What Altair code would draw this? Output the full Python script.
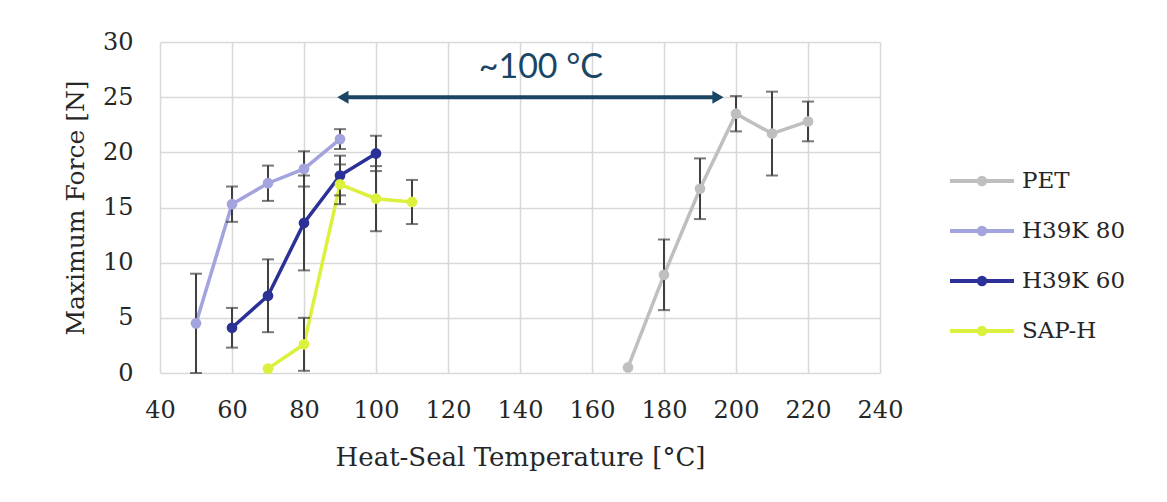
import altair as alt
import pandas as pd

# ---- data ----
series_names = ["PET", "H39K 80", "H39K 60", "SAP-H"]
series_colors = ["#bfbfbf", "#a3a3de", "#2b3196", "#dcf03e"]

pet_x = [170, 180, 190, 200, 210, 220]
pet_y = [0.5, 8.9, 16.7, 23.5, 21.7, 22.8]
pet_err = [0.0, 3.2, 2.75, 1.6, 3.8, 1.8]

h80_x = [50, 60, 70, 80, 90]
h80_y = [4.5, 15.3, 17.2, 18.5, 21.2]
h80_err = [4.5, 1.6, 1.6, 1.6, 0.9]

h60_x = [60, 70, 80, 90, 100]
h60_y = [4.1, 7.0, 13.6, 17.9, 19.9]
h60_err = [1.8, 3.3, 4.3, 1.8, 1.6]

sap_x = [70, 80, 90, 100, 110]
sap_y = [0.4, 2.6, 17.1, 15.8, 15.5]
sap_err = [0.0, 2.4, 1.8, 2.95, 2.0]

x_ticks = [40, 60, 80, 100, 120, 140, 160, 180, 200, 220, 240]
y_ticks = [0, 5, 10, 15, 20, 25, 30]

arrow_x = [90.8, 195.0]
arrow_y = 25
arrow_text = "~100 °C"
arrow_text_x = 145.8
arrow_text_y = 27.6
arrow_color = "#1b4565"

# ---- build table ----
rows = []
for name, xs, ys, es in [
    ("PET", pet_x, pet_y, pet_err),
    ("H39K 80", h80_x, h80_y, h80_err),
    ("H39K 60", h60_x, h60_y, h60_err),
    ("SAP-H", sap_x, sap_y, sap_err),
]:
    for order, (x, y, e) in enumerate(zip(xs, ys, es)):
        rows.append({"series": name, "T": x, "F": y, "err": e,
                     "lo": max(0.0, y - e), "hi": y + e, "ord": order})
df = pd.DataFrame(rows)
df_err = df[df["err"] > 0]

serif = "DejaVu Serif"
txt = "#262626"
y_title = "Maximum Force [N]"
x_title = "Heat-Seal Temperature [°C]"
xscale = alt.Scale(domain=[40, 240], nice=False, zero=False)
yscale = alt.Scale(domain=[0, 30], nice=False)
color = alt.Color(
    "series:N",
    scale=alt.Scale(domain=series_names, range=series_colors),
    legend=alt.Legend(
        title=None, orient="none", legendX=804, legendY=121,
        symbolType="M-2,0H2M-0.2,0a0.2,0.2 0 1,0 0.4,0a0.2,0.2 0 1,0 -0.4,0",
        symbolSize=1024, symbolStrokeWidth=4, labelOffset=22,
        rowPadding=20, labelFont=serif, labelFontSize=23, labelColor=txt,
        padding=0, labelLimit=300,
    ),
)

xaxis = alt.Axis(values=x_ticks, title=x_title, grid=True,
                 gridColor="#d9d9d9", gridWidth=1.6, domain=False, ticks=False,
                 labelPadding=25, titlePadding=22, labelFont=serif, labelFontSize=24,
                 labelFlush=False, labelOverlap=False,
                 titleFont=serif, titleFontSize=26, titleFontWeight="normal",
                 labelColor=txt, titleColor=txt)
yaxis = alt.Axis(values=y_ticks, title=y_title, grid=True,
                 gridColor="#d9d9d9", gridWidth=1.6, domain=False, ticks=False,
                 labelPadding=27, titlePadding=14, labelFont=serif, labelFontSize=24,
                 labelFlush=False, labelOverlap=False,
                 titleFont=serif, titleFontSize=25, titleFontWeight="normal",
                 labelColor=txt, titleColor=txt)

base = alt.Chart(df)

lines = base.mark_line(strokeWidth=3.5).encode(
    x=alt.X("T:Q", scale=xscale, axis=xaxis, title=x_title),
    y=alt.Y("F:Q", scale=yscale, axis=yaxis, title=y_title),
    color=color, order="ord:Q", detail="series:N",
)

errbars = alt.Chart(df_err).mark_errorbar(
    ticks={"size": 12, "thickness": 2, "color": "#404040"},
    color="#404040", thickness=2,
).encode(
    x=alt.X("T:Q", scale=xscale, title=x_title),
    y=alt.Y("lo:Q", scale=yscale, title=y_title),
    y2="hi:Q",
    detail="series:N",
)

points = base.mark_circle(size=115, opacity=1).encode(
    x=alt.X("T:Q", scale=xscale, title=x_title),
    y=alt.Y("F:Q", scale=yscale, title=y_title),
    color=alt.Color("series:N", scale=alt.Scale(domain=series_names, range=series_colors), legend=None),
)

arrow_df = pd.DataFrame({"x": [arrow_x[0]], "x2": [arrow_x[1]], "y": [arrow_y]})
arrow_line = alt.Chart(arrow_df).mark_rule(color=arrow_color, strokeWidth=4).encode(
    x=alt.X("x:Q", scale=xscale, title=x_title), x2="x2:Q",
    y=alt.Y("y:Q", scale=yscale, title=y_title),
)
heads_df = pd.DataFrame({"x": arrow_x, "y": [arrow_y, arrow_y],
                         "shape": ["triangle-left", "triangle-right"]})
arrow_heads = alt.Chart(heads_df).mark_point(filled=True, size=170, opacity=1, color=arrow_color).encode(
    x=alt.X("x:Q", scale=xscale, title=x_title),
    y=alt.Y("y:Q", scale=yscale, title=y_title),
    shape=alt.Shape("shape:N", scale=None),
)
label_df = pd.DataFrame({"x": [arrow_text_x], "y": [arrow_text_y], "t": [arrow_text]})
arrow_label = alt.Chart(label_df).mark_text(
    font="Lato", fontSize=34, color=arrow_color, baseline="middle", align="center",
).encode(x=alt.X("x:Q", scale=xscale, title=x_title),
         y=alt.Y("y:Q", scale=yscale, title=y_title), text="t:N")

chart = alt.layer(
    lines, errbars, points, arrow_line, arrow_heads, arrow_label
).properties(
    width=720, height=331,
    autosize=alt.AutoSizeParams(type="none"),
    padding={"left": 152, "top": 34, "right": 279, "bottom": 121},
    background="white",
).configure_view(stroke=None)

chart.save("out.html", embed_options={"renderer": "svg", "actions": False})
